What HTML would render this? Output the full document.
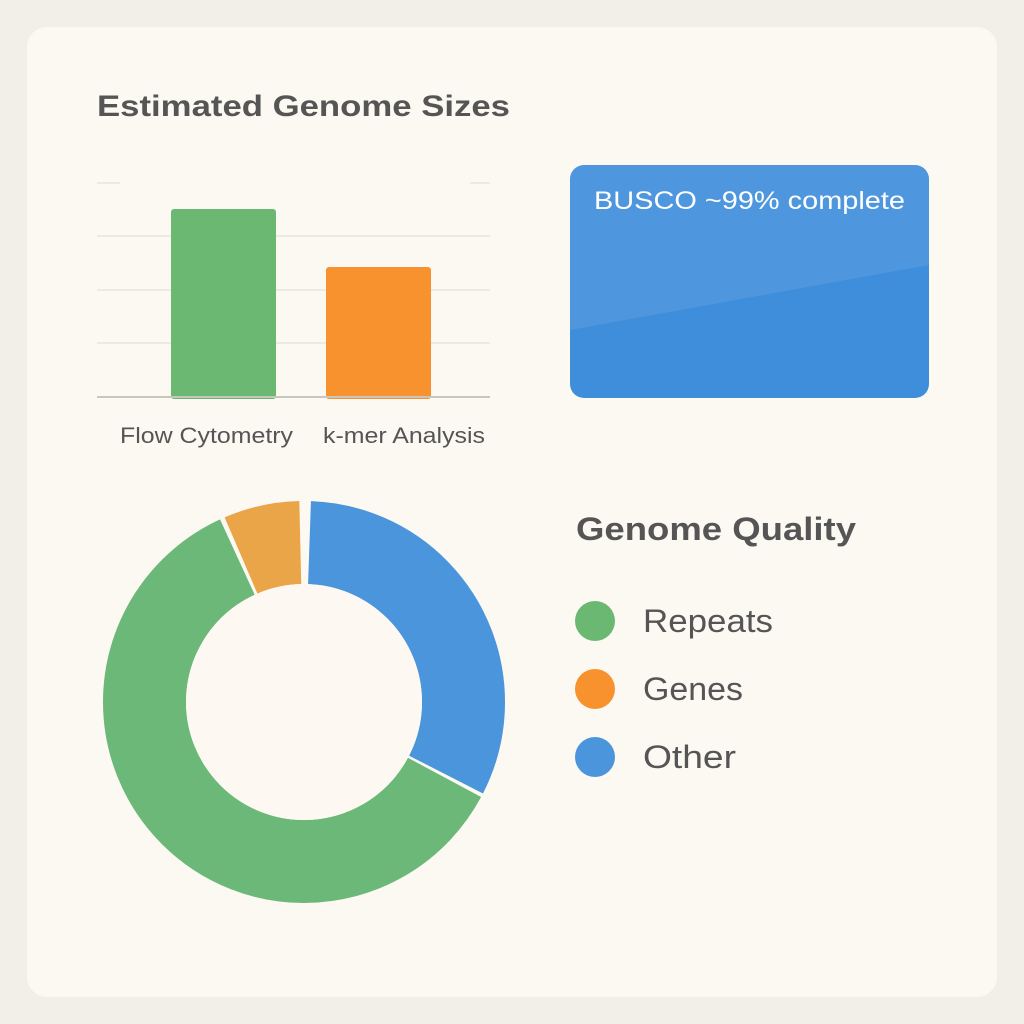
<!DOCTYPE html>
<html><head><meta charset="utf-8"><style>
html,body{margin:0;padding:0;width:1024px;height:1024px;background:#f2efe9;overflow:hidden;font-family:"Liberation Sans","DejaVu Sans",sans-serif}
</style></head><body>
<svg width="1024" height="1024" viewBox="0 0 1024 1024" xmlns="http://www.w3.org/2000/svg">
<rect x="27" y="27" width="970" height="970" rx="20" fill="#fcf9f2"/>
<text x="97" y="116" font-size="30" font-weight="bold" fill="#555" textLength="413" lengthAdjust="spacingAndGlyphs">Estimated Genome Sizes</text>
<g stroke="#e8e5de" stroke-width="1.5">
<line x1="97" y1="183" x2="120" y2="183"/><line x1="470" y1="183" x2="490" y2="183"/>
<line x1="97" y1="236" x2="490" y2="236"/>
<line x1="97" y1="290" x2="490" y2="290"/>
<line x1="97" y1="343" x2="490" y2="343"/>
</g>
<rect x="171" y="209" width="105" height="190" rx="3" fill="#6bb873"/>
<rect x="326" y="267" width="105" height="132" rx="3" fill="#f7922f"/>
<line x1="97" y1="397" x2="490" y2="397" stroke="#c9c6c0" stroke-width="2"/>
<text x="120" y="443" font-size="22" fill="#555" textLength="173" lengthAdjust="spacingAndGlyphs">Flow Cytometry</text>
<text x="323" y="443" font-size="22" fill="#555" textLength="162" lengthAdjust="spacingAndGlyphs">k-mer Analysis</text>
<rect x="570" y="165" width="359" height="233" rx="14" fill="#3f8edb"/>
<path d="M584 165 H915 A14 14 0 0 1 929 179 V265 L570 330 V179 A14 14 0 0 1 584 165Z" fill="#fff" opacity="0.08"/>
<text x="594" y="209" font-size="25" fill="#fff" textLength="311" lengthAdjust="spacingAndGlyphs">BUSCO ~99% complete</text>
<g transform="rotate(-90 304 702)" fill="none" stroke-width="83">
<circle cx="304" cy="702" r="159.5" stroke="#4a95dc" stroke-dasharray="320.2 1000" stroke-dashoffset="-5.57"/>
<circle cx="304" cy="702" r="159.5" stroke="#6bb878" stroke-dasharray="604 1000" stroke-dashoffset="-329"/>
<circle cx="304" cy="702" r="159.5" stroke="#eaa548" stroke-dasharray="61 1000" stroke-dashoffset="-937"/>
</g>
<circle cx="304" cy="702" r="118" fill="#fdf9f2"/>
<text x="576" y="540" font-size="32" font-weight="bold" fill="#555" textLength="280" lengthAdjust="spacingAndGlyphs">Genome Quality</text>
<circle cx="595" cy="621" r="20" fill="#6bb873"/>
<circle cx="595" cy="689" r="20" fill="#f7922f"/>
<circle cx="595" cy="757" r="20" fill="#4a95dc"/>
<text x="643" y="632" font-size="32" fill="#555" textLength="130" lengthAdjust="spacingAndGlyphs">Repeats</text>
<text x="643" y="700" font-size="32" fill="#555" textLength="100" lengthAdjust="spacingAndGlyphs">Genes</text>
<text x="643" y="768" font-size="32" fill="#555" textLength="93" lengthAdjust="spacingAndGlyphs">Other</text>
</svg>
</body></html>
